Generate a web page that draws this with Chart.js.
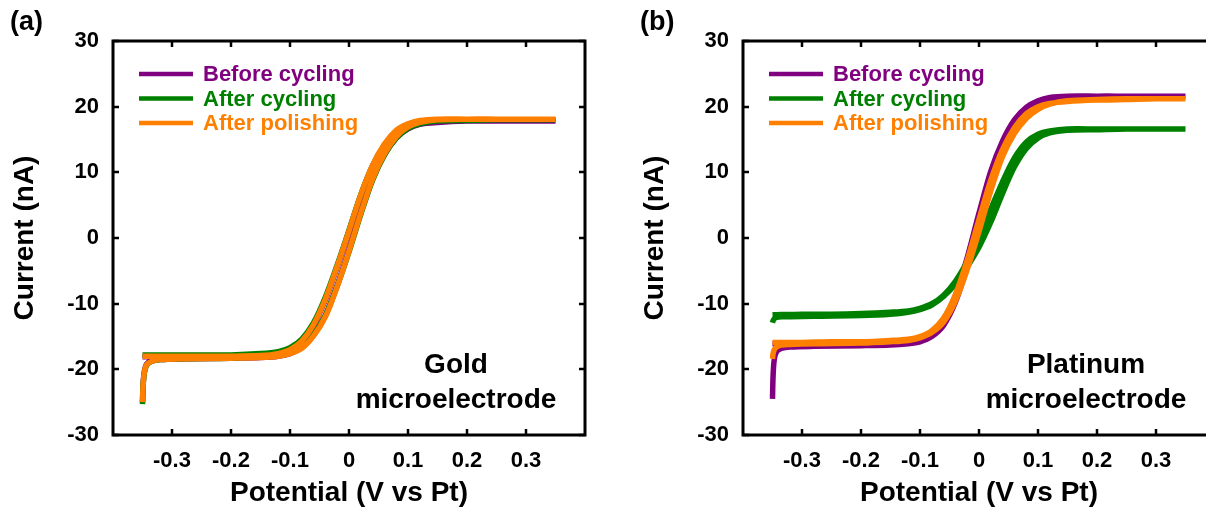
<!DOCTYPE html>
<html>
<head>
<meta charset="utf-8">
<script src="https://cdn.jsdelivr.net/npm/chart.js@4.4.1/dist/chart.umd.min.js"></script>
<style>
  html, body { margin: 0; padding: 0; background: #fff; }
  #wrap { position: relative; width: 1206px; height: 508px; overflow: hidden; background: #fff; }
  .panel { position: absolute; top: 0; width: 603px; height: 508px; }
  #panelA { left: 0; }
  #panelB { left: 630px; }
</style>
</head>
<body>
<div id="wrap">
  <div class="panel" id="panelA"><canvas id="graficoOuro" width="603" height="508"></canvas></div>
  <div class="panel" id="panelB"><canvas id="graficoPlatina" width="603" height="508"></canvas></div>
</div>
<script>
// potential steps (V vs Pt): forward sweep, then the return sweep
var varreduraIda = [-0.35, -0.349, -0.347, -0.343, -0.335, -0.32, -0.28, -0.2, -0.15, -0.12, -0.1, -0.08, -0.06, -0.04, -0.02, 0, 0.02, 0.04, 0.06, 0.08, 0.1, 0.12, 0.15, 0.2, 0.25, 0.3, 0.35];
var varreduraVolta = [0.3, 0.25, 0.2, 0.15, 0.12, 0.1, 0.08, 0.06, 0.04, 0.02, 0, -0.02, -0.04, -0.06, -0.08, -0.1, -0.12, -0.15, -0.2, -0.25, -0.3, -0.35];

var series = ["Before cycling", "After cycling", "After polishing"];
var cores = ["#800080", "#008000", "#ff8000"];

var ticksX = [-0.3, -0.2, -0.1, 0, 0.1, 0.2, 0.3];
var ticksY = [-30, -20, -10, 0, 10, 20, 30];

// gold microelectrode, current in nA
var ouroAntesIda = [-25.0, -22.4, -20.4, -19.2, -18.7, -18.5, -18.4, -18.3, -18.2, -18.0, -17.6, -16.7, -14.8, -11.8, -7.2, -1.8, 3.9, 9.0, 12.7, 15.2, 16.6, 17.3, 17.6, 17.8, 17.8, 17.8, 17.8];
var ouroAntesVolta = [17.8, 17.8, 17.8, 17.7, 17.6, 17.2, 16.2, 14.1, 11.0, 6.5, 1.0, -4.4, -9.4, -13.3, -15.8, -17.1, -17.7, -18.0, -18.1, -18.1, -18.1, -18.1];
var ouroCicloIda = [-25.3, -22.6, -20.6, -19.4, -18.8, -18.5, -18.4, -18.3, -18.1, -17.9, -17.5, -16.6, -14.7, -11.8, -7.3, -2.1, 3.6, 8.8, 12.6, 15.2, 16.7, 17.4, 17.8, 17.9, 18.0, 18.0, 18.0];
var ouroCicloVolta = [18.0, 18.0, 18.0, 17.9, 17.8, 17.3, 16.3, 14.2, 11.0, 6.6, 1.2, -4.1, -9.0, -12.9, -15.4, -16.7, -17.3, -17.6, -17.8, -17.8, -17.8, -17.8];
var ouroPolidoIda = [-25.0, -22.5, -20.5, -19.3, -18.8, -18.5, -18.4, -18.3, -18.2, -18.0, -17.6, -16.8, -14.9, -12.0, -7.4, -2.0, 3.8, 9.0, 12.8, 15.4, 16.9, 17.6, 18.0, 18.1, 18.1, 18.1, 18.1];
var ouroPolidoVolta = [18.1, 18.1, 18.1, 18.1, 17.9, 17.4, 16.4, 14.3, 11.1, 6.6, 1.1, -4.3, -9.3, -13.2, -15.7, -17.0, -17.6, -17.9, -18.0, -18.0, -18.0, -18.0];

// platinum microelectrode, current in nA
var platinaAntesIda = [-24.5, -21.0, -18.5, -17.3, -16.8, -16.6, -16.5, -16.4, -16.3, -16.1, -15.8, -15.0, -13.3, -9.8, -4.3, 2.4, 9.2, 14.2, 17.5, 19.5, 20.7, 21.2, 21.5, 21.6, 21.6, 21.6, 21.6];
var platinaAntesVolta = [21.6, 21.6, 21.6, 21.6, 21.4, 20.9, 19.9, 18.0, 14.8, 10.2, 3.8, -3.0, -8.8, -12.4, -14.6, -15.5, -15.9, -16.0, -16.1, -16.1, -16.1, -16.1];
var platinaCicloIda = [-12.9, -12.6, -12.3, -12.1, -12.0, -12.0, -11.9, -11.8, -11.6, -11.3, -10.9, -10.2, -8.9, -7.0, -4.4, -1.4, 2.4, 6.8, 10.8, 13.6, 15.2, 16.0, 16.4, 16.5, 16.6, 16.6, 16.6];
var platinaCicloVolta = [16.6, 16.6, 16.6, 16.6, 16.3, 15.8, 14.6, 12.2, 8.6, 4.4, 0.2, -3.6, -6.6, -8.7, -10.0, -10.7, -11.1, -11.3, -11.5, -11.6, -11.6, -11.7];
var platinaPolidoIda = [-18.4, -17.6, -17.0, -16.6, -16.3, -16.2, -16.1, -16.0, -15.8, -15.6, -15.2, -14.4, -12.8, -9.6, -4.8, 1.0, 7.2, 12.4, 15.9, 18.2, 19.6, 20.4, 20.9, 21.1, 21.2, 21.2, 21.2];
var platinaPolidoVolta = [21.2, 21.1, 21.0, 20.8, 20.5, 20.0, 18.9, 16.8, 13.5, 8.8, 2.8, -3.4, -8.6, -12.2, -14.1, -15.0, -15.4, -15.6, -15.8, -15.8, -15.9, -15.9];

var fonte = '"Liberation Sans", Arial, sans-serif';

function MontarCiclo(ida, volta) {
    var pontos = [];
    for (var i = 0; i < varreduraIda.length; i++) pontos.push({ x: varreduraIda[i], y: ida[i] });
    for (var j = 0; j < varreduraVolta.length; j++) pontos.push({ x: varreduraVolta[j], y: volta[j] });
    return pontos;
}

function MontarDatasets(ciclos) {
    // orange on top, purple underneath
    var ordem = [2, 1, 0];
    return ciclos.map(function (c, i) {
        return {
            label: series[i],
            data: MontarCiclo(c[0], c[1]),
            borderColor: cores[i],
            backgroundColor: cores[i],
            borderWidth: 5.5,
            pointRadius: 0,
            tension: 0.3,
            fill: false,
            order: ordem[i]
        };
    });
}

// frame with inward ticks, panel letter, electrode name and legend
var moldura = {
    id: 'moldura',
    afterDraw: function (chart, args, opts) {
        var ctx = chart.ctx, a = chart.chartArea;
        var sx = chart.scales.x, sy = chart.scales.y;
        ctx.save();
        ctx.strokeStyle = '#000';
        ctx.lineWidth = 2.5;
        ctx.beginPath();
        sx.ticks.forEach(function (t) {
            var px = Math.round(sx.getPixelForValue(t.value));
            ctx.moveTo(px, a.bottom); ctx.lineTo(px, a.bottom - 6);
            ctx.moveTo(px, a.top); ctx.lineTo(px, a.top + 6);
        });
        sy.ticks.forEach(function (t) {
            var py = Math.round(sy.getPixelForValue(t.value));
            ctx.moveTo(a.left, py); ctx.lineTo(a.left + 6, py);
            ctx.moveTo(a.right, py); ctx.lineTo(a.right - 6, py);
        });
        ctx.stroke();
        ctx.lineWidth = 3;
        ctx.strokeRect(a.left, a.top, a.right - a.left, a.bottom - a.top);

        ctx.fillStyle = '#000';
        ctx.textBaseline = 'middle';
        ctx.textAlign = 'left';
        ctx.font = 'bold 27px ' + fonte;
        ctx.fillText(opts.letra, 10, 23);

        ctx.textAlign = 'center';
        ctx.font = 'bold 28px ' + fonte;
        ctx.fillText(opts.nome[0], a.right - 129, a.top + 324);
        ctx.fillText(opts.nome[1], a.right - 129, a.top + 359);

        ctx.textAlign = 'left';
        ctx.font = 'bold 22px ' + fonte;
        chart.data.datasets.forEach(function (ds, i) {
            var y = a.top + 33 + i * 24.5;
            ctx.strokeStyle = ds.borderColor;
            ctx.lineWidth = 4.5;
            ctx.beginPath();
            ctx.moveTo(a.left + 26, y);
            ctx.lineTo(a.left + 80, y);
            ctx.stroke();
            ctx.fillStyle = ds.borderColor;
            ctx.fillText(ds.label, a.left + 90, y + 1);
        });
        ctx.restore();
    }
};

function CriarGrafico(id, ciclos, letra, nome) {
    var ctx = document.getElementById(id).getContext('2d');
    return new Chart(ctx, {
        type: 'line',
        data: { datasets: MontarDatasets(ciclos) },
        options: {
            responsive: false,
            animation: false,
            layout: { padding: { top: 41, right: 18, left: 0, bottom: 0 } },
            plugins: {
                legend: { display: false },
                tooltip: { enabled: false },
                moldura: { letra: letra, nome: nome }
            },
            scales: {
                x: {
                    type: 'linear',
                    min: -0.4,
                    max: 0.4,
                    afterBuildTicks: function (scale) {
                        scale.ticks = ticksX.map(function (v) { return { value: v }; });
                    },
                    afterFit: function (scale) { scale.height = 73; },
                    grid: { display: false, drawTicks: false },
                    border: { display: false },
                    ticks: {
                        color: '#000',
                        padding: 13,
                        maxRotation: 0,
                        font: { family: fonte, size: 22, weight: 'bold' },
                        callback: function (v) { return String(v); }
                    },
                    title: {
                        display: true,
                        text: 'Potential (V vs Pt)',
                        color: '#000',
                        font: { family: fonte, size: 28, weight: 'bold', lineHeight: 1 },
                        padding: { top: 0, bottom: 1 }
                    }
                },
                y: {
                    type: 'linear',
                    min: -30,
                    max: 30,
                    afterBuildTicks: function (scale) {
                        scale.ticks = ticksY.map(function (v) { return { value: v }; });
                    },
                    afterFit: function (scale) { scale.width = 113; },
                    grid: { display: false, drawTicks: false },
                    border: { display: false },
                    ticks: {
                        color: '#000',
                        padding: 14,
                        font: { family: fonte, size: 22, weight: 'bold' },
                        callback: function (v) { return String(v); }
                    },
                    title: {
                        display: true,
                        text: 'Current (nA)',
                        color: '#000',
                        font: { family: fonte, size: 28, weight: 'bold', lineHeight: 1 },
                        padding: { top: 11, bottom: 0 }
                    }
                }
            }
        },
        plugins: [moldura]
    });
}

CriarGrafico('graficoOuro', [
    [ouroAntesIda, ouroAntesVolta],
    [ouroCicloIda, ouroCicloVolta],
    [ouroPolidoIda, ouroPolidoVolta]
], '(a)', ['Gold', 'microelectrode']);

CriarGrafico('graficoPlatina', [
    [platinaAntesIda, platinaAntesVolta],
    [platinaCicloIda, platinaCicloVolta],
    [platinaPolidoIda, platinaPolidoVolta]
], '(b)', ['Platinum', 'microelectrode']);
</script>
</body>
</html>
